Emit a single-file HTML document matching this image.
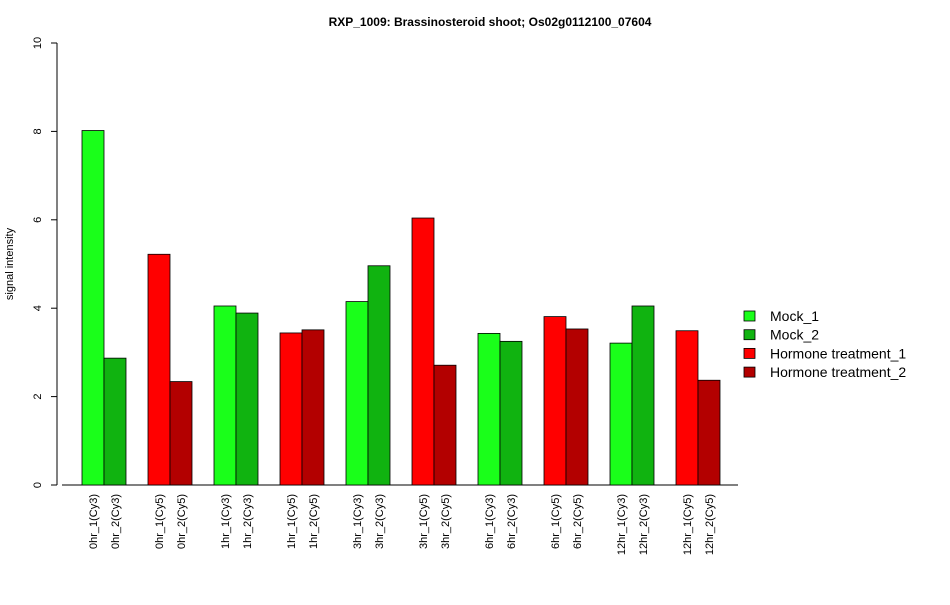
<!DOCTYPE html>
<html><head><meta charset="utf-8"><style>
body{margin:0;background:#fff;}
svg{font-family:"Liberation Sans",Arial,sans-serif;}
</style></head><body>
<svg id="chart" width="950" height="600" xmlns="http://www.w3.org/2000/svg">
<text x="490" y="26" text-anchor="middle" font-size="12" font-weight="bold">RXP_1009: Brassinosteroid shoot; Os02g0112100_07604</text>
<text transform="translate(13,264) rotate(-90)" text-anchor="middle" font-size="11">signal intensity</text>
<g id="marks"></g>
</svg>
<script>
const categories=["0hr_1(Cy3)","0hr_2(Cy3)","0hr_1(Cy5)","0hr_2(Cy5)","1hr_1(Cy3)","1hr_2(Cy3)","1hr_1(Cy5)","1hr_2(Cy5)","3hr_1(Cy3)","3hr_2(Cy3)","3hr_1(Cy5)","3hr_2(Cy5)","6hr_1(Cy3)","6hr_2(Cy3)","6hr_1(Cy5)","6hr_2(Cy5)","12hr_1(Cy3)","12hr_2(Cy3)","12hr_1(Cy5)","12hr_2(Cy5)"];
const values=[8.02,2.87,5.22,2.34,4.05,3.89,3.44,3.51,4.15,4.96,6.04,2.71,3.43,3.25,3.81,3.53,3.21,4.05,3.49,2.37];
const seriesIndex=[0,1,2,3,0,1,2,3,0,1,2,3,0,1,2,3,0,1,2,3];
const seriesNames=["Mock_1","Mock_2","Hormone treatment_1","Hormone treatment_2"];
const yTicks=[0,2,4,6,8,10];
const colors=["#1aff1a","#10b310","#ff0000","#b30000"];
const NS="http://www.w3.org/2000/svg";
const g=document.getElementById('marks');
const y0=485,yScale=44.2,x0=60,unit=22;
const Y=v=>y0-v*yScale;
const X=i=>x0+unit*(Math.floor(i/2)*3+1+(i%2));
function mk(t,a){const e=document.createElementNS(NS,t);for(const k in a)e.setAttribute(k,a[k]);g.appendChild(e);return e;}
let e=mk('line',{x1:57,x2:57,y1:Y(0),y2:Y(10),stroke:'#000'});


yTicks.forEach(t=>{
 let l=mk('line',{x1:51,x2:57,y1:Y(t),y2:Y(t),stroke:'#000'});
 
 
 let tx=mk('text',{transform:`translate(41,${Y(t)}) rotate(-90)`,'text-anchor':'middle','font-size':'11'});
 tx.textContent=t;
 
 
});
e=mk('line',{x1:62,x2:738,y1:y0,y2:y0,stroke:'#000'});


values.forEach((v,i)=>{
 let r=mk('rect',{x:X(i),y:Y(v),width:unit,height:v*yScale,fill:colors[seriesIndex[i]],stroke:'#000','stroke-width':0.8});
 
 
 let tx=mk('text',{transform:`translate(${X(i)+unit/2+4},494) rotate(-90)`,'text-anchor':'end','font-size':'11'});
 tx.textContent=categories[i];
 
 
});
seriesNames.forEach((n,i)=>{
 const cy=316+i*18.7;
 let r=mk('rect',{x:744,y:cy-5,width:11,height:10,fill:colors[i],stroke:'#000','stroke-width':0.8});
 
 
 let tx=mk('text',{x:770,y:cy+5,'font-size':'14'});
 tx.textContent=n;
 
 
});
</script>
</body></html>
